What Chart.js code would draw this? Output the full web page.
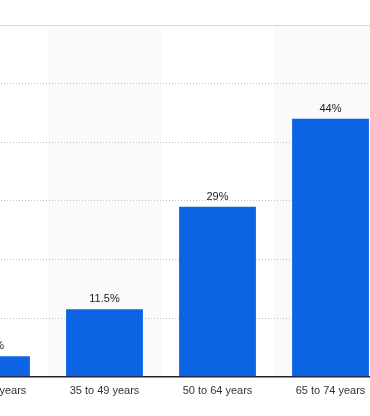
<html>
<head>
  <title>Share by age group</title>
  <script src="https://cdn.jsdelivr.net/npm/chart.js"></script>
  <style>
    body { margin: 0; background: #fff; }
    #wrap { position: relative; width: 370px; height: 416px; overflow: hidden; }
    #ageChart { position: absolute; left: -65px; top: 0; }
  </style>
</head>
<body>
  <div id="wrap">
    <canvas id="ageChart" width="452" height="416"></canvas>
  </div>

  <script>
    // Chart data
    const ageGroups = ['18 to 34 years', '35 to 49 years', '50 to 64 years', '65 to 74 years'];
    const shares = [3.5, 11.5, 29, 44];
    const yTicks = [0, 10, 20, 30, 40, 50, 60];

    // light grey bands behind every second category
    const stripes = {
      id: 'stripes',
      beforeDraw(chart) {
        const ctx = chart.ctx;
        const x = chart.scales.x;
        const area = chart.chartArea;
        const half = (x.getPixelForValue(1) - x.getPixelForValue(0)) / 2;
        ctx.save();
        ctx.fillStyle = '#fafafa';
        for (let i = 1; i < ageGroups.length; i += 2) {
          const c = x.getPixelForValue(i);
          ctx.fillRect(c - half, area.top, half * 2, area.bottom - area.top);
        }
        ctx.restore();
      },
      beforeDatasetsDraw(chart) {
        // solid top grid line
        const ctx = chart.ctx;
        const y = chart.scales.y.getPixelForValue(yTicks[yTicks.length - 1]);
        ctx.save();
        ctx.strokeStyle = '#d8d8d8';
        ctx.lineWidth = 1;
        ctx.beginPath();
        ctx.moveTo(chart.chartArea.left, y + 0.5);
        ctx.lineTo(chart.chartArea.right, y + 0.5);
        ctx.stroke();
        ctx.restore();
      }
    };

    // value labels above the bars
    const valueLabels = {
      id: 'valueLabels',
      afterDatasetsDraw(chart) {
        const ctx = chart.ctx;
        const meta = chart.getDatasetMeta(0);
        ctx.save();
        ctx.font = '11px "Liberation Sans", Arial, sans-serif';
        ctx.fillStyle = '#222';
        ctx.textAlign = 'center';
        ctx.textBaseline = 'middle';
        meta.data.forEach((bar, i) => {
          ctx.fillText(shares[i] + '%', bar.x, bar.y - 10);
        });
        ctx.restore();
      }
    };

    new Chart(document.getElementById('ageChart'), {
      type: 'bar',
      data: {
        labels: ageGroups,
        datasets: [{
          data: shares,
          backgroundColor: '#0c63e4',
          borderWidth: 0,
          barPercentage: 0.68,
          categoryPercentage: 1
        }]
      },
      options: {
        responsive: false,
        animation: false,
        layout: { padding: { top: 25, bottom: 18, left: 0, right: 0 } },
        plugins: {
          legend: { display: false },
          tooltip: { enabled: false }
        },
        scales: {
          x: {
            grid: { display: false },
            border: { display: true, color: '#222', width: 1.5 },
            ticks: {
              padding: 0,
              color: '#333',
              font: { family: '"Liberation Sans", Arial, sans-serif', size: 11 },
              maxRotation: 0,
              autoSkip: false
            }
          },
          y: {
            min: yTicks[0],
            max: yTicks[yTicks.length - 1],
            afterBuildTicks: axis => { axis.ticks = yTicks.map(v => ({ value: v })); },
            ticks: { display: false },
            grid: { color: '#c4c4c4', drawTicks: false, lineWidth: 1 },
            border: { display: false, dash: [1, 2] }
          }
        }
      },
      plugins: [stripes, valueLabels]
    });
  </script>
</body>
</html>
